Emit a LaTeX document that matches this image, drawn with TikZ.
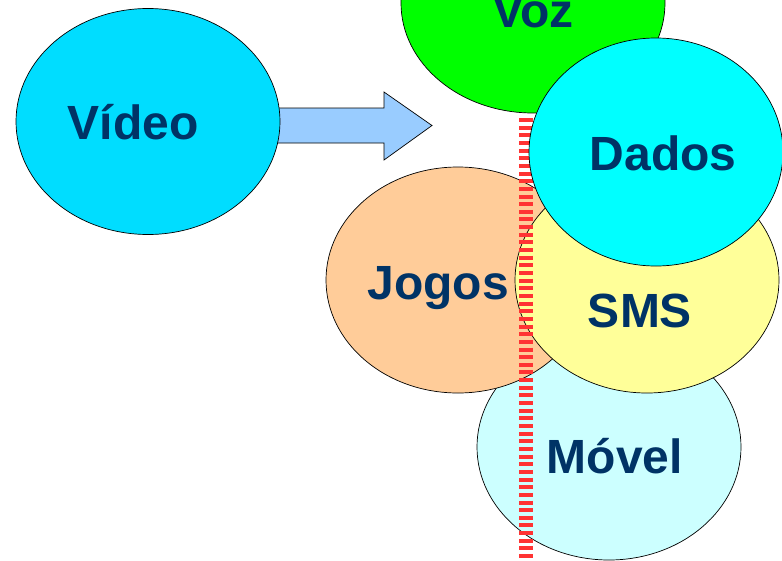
\documentclass[tikz,border=0pt]{standalone}
\usepackage{fontspec}
\setmainfont{Liberation Sans}
\usetikzlibrary{shapes.geometric}
\definecolor{txtblue}{HTML}{003366}
\definecolor{cvideo}{HTML}{00DDFF}
\definecolor{cvoz}{HTML}{00FF00}
\definecolor{cdados}{HTML}{00FFFF}
\definecolor{cjogos}{HTML}{FFCC99}
\definecolor{csms}{HTML}{FFFF99}
\definecolor{cmovel}{HTML}{CCFFFF}
\definecolor{carrow}{HTML}{99CCFF}
\definecolor{cbar}{HTML}{FF3333}
\tikzset{
  blob/.style={ellipse, draw=black, line width=0.7pt, inner sep=0pt,
    minimum width=264pt, minimum height=226pt},
  word/.style={anchor=base, text=txtblue, font=\fontsize{48}{48}\selectfont\bfseries, inner sep=0pt}
}
\begin{document}
\begin{tikzpicture}[x=1pt,y=-1pt]
\useasboundingbox (0,0) rectangle (782,560);
\begin{scope}
\clip (0,0) rectangle (782,560);
% arrow
\draw[fill=carrow, line width=0.7pt, line join=miter]
  (270,108) -- (384,108) -- (384,92) -- (432,125.5) -- (384,160) -- (384,143) -- (270,143) -- cycle;
\node[blob, fill=cvideo] (video) at (148,121.5) {};
\node[word] (tvideo) at (133,139.5) {Vídeo};
% Movel
\node[blob, fill=cmovel] (movel) at (609,447) {};
\node[word] (tmovel) at (615,473.5) {Móvel};
% Jogos
\node[blob, fill=cjogos] (jogos) at (458,280) {};
\node[word] (tjogos) at (438,299) {Jogos};
% SMS
\node[blob, fill=csms] (sms) at (647,280) {};
\node[word] (tsms) at (640,327.5) {SMS};
% bar
\coordinate (bartop) at (526,118);
\coordinate (barbot) at (526,562);
\draw[cbar, line width=14pt, dash pattern=on 4pt off 3.65pt] (bartop) -- (barbot);
% Voz
\node[blob, fill=cvoz, minimum height=220pt] (voz) at (533,3) {};
\node[word] (tvoz) at (533,27) {Voz};
% Dados
\node[blob, fill=cdados, minimum width=254pt, minimum height=228pt] (dados) at (656,152) {};
\node[word] (tdados) at (663,170.5) {Dados};
\end{scope}
\end{tikzpicture}
\end{document}
